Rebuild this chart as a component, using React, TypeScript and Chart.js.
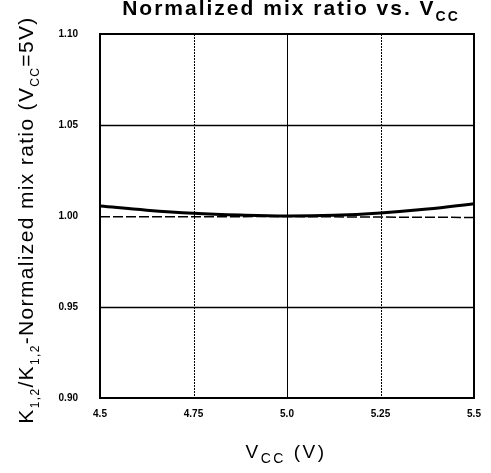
import React, { useEffect, useRef } from "react";
import { Chart, registerables } from "chart.js";

Chart.register(...registerables);

// Data
const vccK1 = [4.5, 4.625, 4.75, 4.875, 5.0, 5.125, 5.25, 5.375, 5.5];
const ratioK1 = [1.0055, 1.0032, 1.0015, 1.0005, 1.0, 1.0004, 1.0017, 1.0038, 1.0068];
const vccK2 = [4.5, 4.75, 5.0, 5.25, 5.5];
const ratioK2 = [0.9996, 0.9996, 0.9997, 0.9994, 0.9992];

const xTicks = [4.5, 4.75, 5.0, 5.25, 5.5];
const xTickLabels = ["4.5", "4.75", "5.0", "5.25", "5.5"];
const yTicks = [0.9, 0.95, 1.0, 1.05, 1.1];
const yTickLabels = ["0.90", "0.95", "1.00", "1.05", "1.10"];

const xGridSolid = [5.0];
const xGridDotted = [4.75, 5.25];
const yGridSolid = [0.95, 1.05];

type Seg = { t: string; sub?: boolean };

function drawRich(
  ctx: CanvasRenderingContext2D,
  segs: Seg[],
  x: number,
  y: number,
  size: number,
  subSize: number,
  weight: string,
  family: string,
  spacing: number
) {
  const main = `${weight} ${size}px ${family}`;
  const sub = `${weight} ${subSize}px ${family}`;
  const c: any = ctx;
  c.letterSpacing = "0px";
  let total = 0;
  for (const s of segs) {
    ctx.font = s.sub ? sub : main;
    total += ctx.measureText(s.t).width + spacing * s.t.length;
  }
  let cx = x - total / 2;
  ctx.textAlign = "left";
  ctx.textBaseline = "alphabetic";
  for (const s of segs) {
    ctx.font = s.sub ? sub : main;
    c.letterSpacing = "0px";
    const w = ctx.measureText(s.t).width + spacing * s.t.length;
    c.letterSpacing = `${spacing}px`;
    ctx.fillText(s.t, cx, s.sub ? y + size * 0.28 : y);
    cx += w;
  }
  c.letterSpacing = "0px";
}

const FAMILY = '"Liberation Sans", Arial, sans-serif';

const decorPlugin = {
  id: "decor",
  beforeDatasetsDraw(chart: any) {
    const { ctx, chartArea: a, scales } = chart;
    const xs = scales.x;
    const ys = scales.y;
    ctx.save();
    ctx.strokeStyle = "#000";
    ctx.lineWidth = 1;
    for (const v of xGridDotted) {
      const px = Math.round(xs.getPixelForValue(v)) + 0.5;
      ctx.setLineDash([2, 1]);
      ctx.beginPath();
      ctx.moveTo(px, a.top);
      ctx.lineTo(px, a.bottom);
      ctx.stroke();
    }
    ctx.setLineDash([]);
    for (const v of xGridSolid) {
      const px = Math.round(xs.getPixelForValue(v)) + 0.5;
      ctx.beginPath();
      ctx.moveTo(px, a.top);
      ctx.lineTo(px, a.bottom);
      ctx.stroke();
    }
    ctx.lineWidth = 1.5;
    for (const v of yGridSolid) {
      const py = Math.round(ys.getPixelForValue(v)) + 0.5;
      ctx.beginPath();
      ctx.moveTo(a.left, py);
      ctx.lineTo(a.right, py);
      ctx.stroke();
    }
    ctx.lineWidth = 2;
    ctx.strokeRect(a.left, a.top, a.right - a.left, a.bottom - a.top);
    ctx.restore();
  },
  afterDraw(chart: any) {
    const { ctx } = chart;
    ctx.save();
    ctx.fillStyle = "#000";
    // title
    drawRich(ctx, [{ t: "Normalized mix ratio vs. V" }, { t: "CC", sub: true }], 291, 15, 21, 14, "bold", FAMILY, 2);
    // x axis title
    drawRich(ctx, [{ t: "V" }, { t: "CC", sub: true }, { t: " (V)" }], 286, 458, 19, 14, "normal", FAMILY, 2.5);
    // y axis title
    ctx.translate(33, 220);
    ctx.rotate(-Math.PI / 2);
    drawRich(
      ctx,
      [
        { t: "K" }, { t: "1,2", sub: true }, { t: "/K" }, { t: "1,2", sub: true },
        { t: "-Normalized mix ratio (V" }, { t: "CC", sub: true }, { t: "=5V)" },
      ],
      0, 0, 21, 12, "normal", FAMILY, 1.35
    );
    ctx.restore();
  },
};

export default function App() {
  const ref = useRef<HTMLCanvasElement>(null);
  useEffect(() => {
    document.body.style.margin = "0";
    const chart = new Chart(ref.current!, {
      type: "line",
      data: {
        datasets: [
          {
            label: "K1",
            data: vccK1.map((x, i) => ({ x, y: ratioK1[i] })),
            borderColor: "#000",
            borderWidth: 3,
            pointRadius: 0,
            tension: 0.4,
            fill: false,
          },
          {
            label: "K2",
            data: vccK2.map((x, i) => ({ x, y: ratioK2[i] })),
            borderColor: "#000",
            borderWidth: 1.5,
            borderDash: [10, 3],
            pointRadius: 0,
            tension: 0,
            fill: false,
          },
        ],
      },
      options: {
        animation: false,
        responsive: false,
        layout: { padding: { top: 34, right: 17, left: 0, bottom: 0 } },
        plugins: { legend: { display: false }, tooltip: { enabled: false }, title: { display: false } },
        scales: {
          x: {
            type: "linear",
            min: 4.5,
            max: 5.5,
            afterBuildTicks: (s: any) => { s.ticks = xTicks.map((v) => ({ value: v })); },
            afterFit: (s: any) => { s.height = 75; },
            ticks: {
              autoSkip: false,
              maxRotation: 0,
              padding: 10,
              color: "#000",
              font: { size: 10, weight: "bold", family: FAMILY },
              callback: (_v: any, i: number) => xTickLabels[i],
            },
            grid: { display: false, drawTicks: false },
            border: { display: false },
          },
          y: {
            type: "linear",
            min: 0.9,
            max: 1.1,
            afterBuildTicks: (s: any) => { s.ticks = yTicks.map((v) => ({ value: v })); },
            afterFit: (s: any) => { s.width = 100; },
            ticks: {
              autoSkip: false,
              padding: 22,
              color: "#000",
              font: { size: 10, weight: "bold", family: FAMILY },
              callback: (_v: any, i: number) => yTickLabels[i],
            },
            grid: { display: false, drawTicks: false },
            border: { display: false },
          },
        },
      },
      plugins: [decorPlugin],
    } as any);
    return () => chart.destroy();
  }, []);
  return <canvas ref={ref} width={491} height={473} style={{ display: "block" }} />;
}
